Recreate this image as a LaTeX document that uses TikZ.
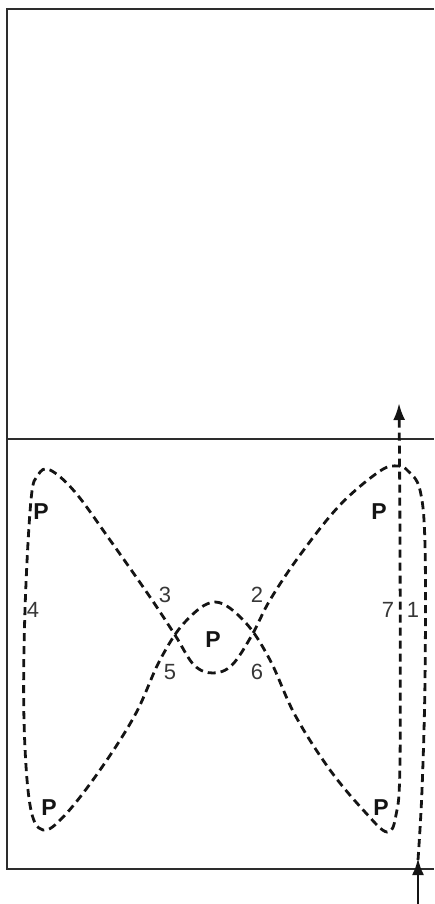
\documentclass[tikz,border=0pt]{standalone}
\usepackage{fontspec}
\setmainfont{Liberation Sans}
\usetikzlibrary{arrows.meta}
\definecolor{framegray}{RGB}{45, 45, 45}
\definecolor{inkdark}{RGB}{20, 20, 20}

\begin{document}
\begin{tikzpicture}[x=1pt, y=-1pt,
    flowtip/.style={-{Latex[length=17pt, width=12pt]}},
    frameline/.style={line width=1.3pt, color=framegray},
    tourline/.style={line width=2.8pt, color=inkdark, dash pattern=on 8pt off 5pt},
    stagelabel/.style={font=\fontsize{22}{22}\selectfont, text=inkdark!85, inner sep=0pt},
    plabel/.style={font=\fontsize{23}{23}\selectfont\bfseries, text=inkdark, inner sep=0pt}]
    \useasboundingbox (0,0) rectangle (434,904);

    % frame
    \coordinate (FrameTL) at (7, 9);
    \coordinate (FrameBL) at (7, 869);
    \coordinate (FrameTR) at (434, 9);
    \coordinate (FrameBR) at (434, 869);
    \coordinate (SplitL) at (7, 439);
    \coordinate (SplitR) at (434, 439);
    \draw[frameline] (FrameTR) -- (FrameTL) -- (FrameBL) -- (FrameBR);
    \draw[frameline] (SplitL) -- (SplitR);

    % entry
    \coordinate (FeedIn) at (418, 904);
    \coordinate (FeedTip) at (418, 858);
    \draw[flowtip, line width=2.8pt, color=inkdark] (FeedIn) -- (FeedTip);

    % the tour through the bow
    \draw[tourline, flowtip] plot[smooth, tension=0.6] coordinates {
        (418,860) (422,790) (425,680) (425,545) (420,490) (408,471) (398,466)
        (380,471) (340,505) (300,555) (270,600) (252,635) (232,665) (213,673)
        (194,665) (175,635) (150,597) (110,540) (75,492) (50,470) (38,475)
        (31,500) (25,610) (24,720) (30,805) (43,830) (65,815) (100,770)
        (135,715) (160,660) (185,622) (215,602) (245,622) (270,660) (295,715)
        (330,770) (365,812) (387,832) (396,815) (400,760) (400,545) (399,403)};

    % stage numbers
    \node[stagelabel] (StageOne) at (413, 610) {1};
    \node[stagelabel] (StageTwo) at (257, 595) {2};
    \node[stagelabel] (StageThree) at (165, 595) {3};
    \node[stagelabel] (StageFour) at (33, 610) {4};
    \node[stagelabel] (StageFive) at (170, 672) {5};
    \node[stagelabel] (StageSix) at (257, 672) {6};
    \node[stagelabel] (StageSeven) at (388, 610) {7};

    % poles
    \node[plabel] (PoleUL) at (41, 512) {P};
    \node[plabel] (PoleUR) at (379, 512) {P};
    \node[plabel] (PoleMid) at (213, 640) {P};
    \node[plabel] (PoleLL) at (49, 808) {P};
    \node[plabel] (PoleLR) at (381, 808) {P};
\end{tikzpicture}
\end{document}
